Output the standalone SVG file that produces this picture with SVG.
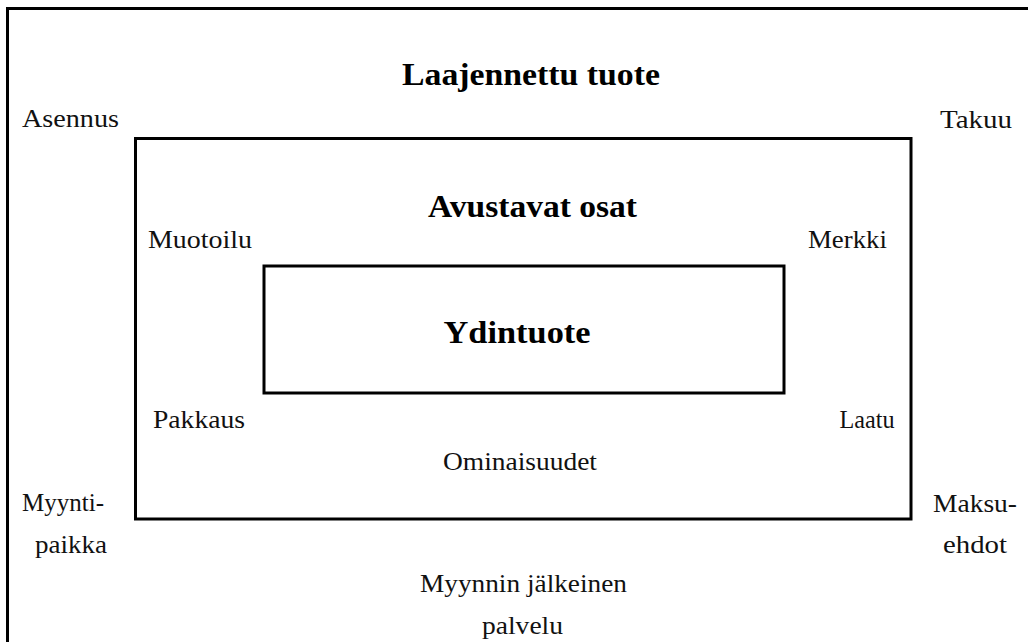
<svg xmlns="http://www.w3.org/2000/svg" width="1028" height="642" viewBox="0 0 1028 642">
<style>
.box{fill:none;stroke:#000;stroke-width:3}
.t{font-size:26px;fill:#111;text-anchor:middle}
.b{font-size:32px;font-weight:bold;fill:#000;text-anchor:middle}
</style>
<rect width="1028" height="642" fill="#fff"/>
<g font-family="Liberation Serif, DejaVu Serif, serif">
<g id="laajennettu">
<path class="box" d="M7.5,646 V8.5 H1032"/>
<text class="b" x="531" y="85" textLength="258" lengthAdjust="spacingAndGlyphs">Laajennettu tuote</text>
</g>
<g id="avustavat">
<rect class="box" x="135.5" y="138.5" width="775.5" height="380.5"/>
<text class="b" x="532.5" y="217" textLength="209" lengthAdjust="spacingAndGlyphs">Avustavat osat</text>
</g>
<g id="ydintuote">
<rect class="box" x="264" y="266" width="520" height="127"/>
<text class="b" x="517" y="343" textLength="147" lengthAdjust="spacingAndGlyphs">Ydintuote</text>
</g>
<g id="labels">
<text class="t" x="70.5" y="127" textLength="97" lengthAdjust="spacingAndGlyphs">Asennus</text>
<text class="t" x="976" y="128" textLength="72" lengthAdjust="spacingAndGlyphs">Takuu</text>
<text class="t" x="200" y="248" textLength="104" lengthAdjust="spacingAndGlyphs">Muotoilu</text>
<text class="t" x="847.5" y="248" textLength="79" lengthAdjust="spacingAndGlyphs">Merkki</text>
<text class="t" x="199" y="428" textLength="92" lengthAdjust="spacingAndGlyphs">Pakkaus</text>
<text class="t" x="867" y="428" textLength="55" lengthAdjust="spacingAndGlyphs">Laatu</text>
<text class="t" x="520" y="470" textLength="154" lengthAdjust="spacingAndGlyphs">Ominaisuudet</text>
<text class="t" x="63" y="511" textLength="82" lengthAdjust="spacingAndGlyphs">Myynti-</text>
<text class="t" x="71" y="553" textLength="72" lengthAdjust="spacingAndGlyphs">paikka</text>
<text class="t" x="975" y="512" textLength="84" lengthAdjust="spacingAndGlyphs">Maksu-</text>
<text class="t" x="975" y="553" textLength="64" lengthAdjust="spacingAndGlyphs">ehdot</text>
<text class="t" x="523.5" y="592" textLength="207" lengthAdjust="spacingAndGlyphs">Myynnin jälkeinen</text>
<text class="t" x="522.5" y="634" textLength="81" lengthAdjust="spacingAndGlyphs">palvelu</text>
</g>
</g>
<g id="connectors"/>
</svg>
